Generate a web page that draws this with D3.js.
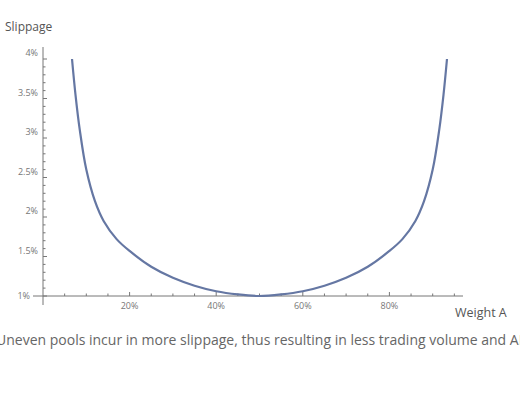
<!DOCTYPE html><html><head><meta charset="utf-8"><script src="https://cdn.jsdelivr.net/npm/d3@7"></script>
<style>body{margin:0;background:#fff}text{font-family:"Open Sans",sans-serif}</style></head><body><svg id="c" width="520" height="400"></svg>
<script>
const weights=[6.7,7.5,8.5,10,12,14,17,20,25,30,35,40,45,50,55,60,65,70,75,80,83,86,88,90,91.5,92.5,93.3];
const slippage=[4.0,3.55,3.1,2.6,2.2,1.95,1.72,1.57,1.37,1.23,1.13,1.06,1.02,1.0,1.02,1.06,1.13,1.23,1.37,1.57,1.72,1.95,2.2,2.6,3.1,3.55,4.0];
const xTicks=[20,40,60,80];
const yTicks=[1,1.5,2,2.5,3,3.5,4];
const svg=d3.select("#c");
const x=d3.scaleLinear().domain([0,100]).range([43,476]);
const y=d3.scaleLinear().domain([1,4]).range([296,59]);
const g=svg.append("g");
g.append("line").attr("x1",33).attr("x2",x(97)).attr("y1",y(1)).attr("y2",y(1)).attr("stroke","#777");
d3.range(5,100,5).forEach(v=>{g.append("line").attr("x1",x(v)).attr("x2",x(v)).attr("y1",y(1)).attr("y2",y(1)-(v%20==0?4:2.5)).attr("stroke","#777");});
xTicks.forEach(v=>g.append("text").attr("x",x(v)).attr("y",y(1)+13).attr("text-anchor","middle").attr("font-size",9).attr("fill","#777").text(v+"%"));
g.append("line").attr("x1",43).attr("x2",43).attr("y1",47).attr("y2",305).attr("stroke","#777");
d3.range(10,41,1).forEach(i=>{const v=i/10;const major=i%5==0;g.append("line").attr("x1",43).attr("x2",43+(major?4:2.5)).attr("y1",y(v)).attr("y2",y(v)).attr("stroke","#777");});
yTicks.forEach(v=>g.append("text").attr("x",v==1?30:38).attr("y",y(v)-(v==1?-3:3)).attr("text-anchor","end").attr("font-size",9).attr("fill","#777").text(v+"%"));
svg.append("text").attr("x",5).attr("y",31).attr("font-size",12).attr("fill","#555").text("Slippage");
svg.append("text").attr("x",455).attr("y",317).attr("font-size",12.5).attr("fill","#555").text("Weight A");
svg.append("path").datum(weights.map((w,i)=>[w,slippage[i]])).attr("fill","none").attr("stroke","#6577a3").attr("stroke-width",2.2)
 .attr("d",d3.line().x(d=>x(d[0])).y(d=>y(d[1])).curve(d3.curveCatmullRom));
svg.append("text").attr("x",-4).attr("y",345).attr("font-size",14).attr("fill","#666").text("Uneven pools incur in more slippage, thus resulting in less trading volume and APY.");
</script></body></html>
